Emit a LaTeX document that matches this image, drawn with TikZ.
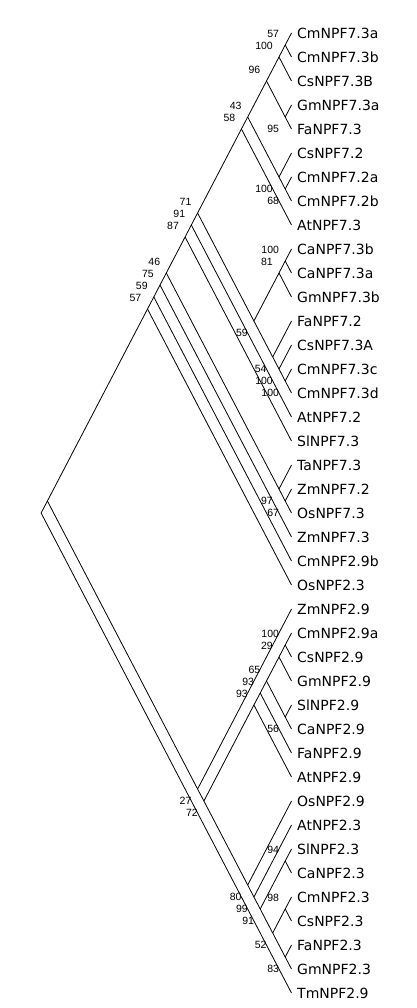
\documentclass[tikz,border=0pt]{standalone}
\usepackage{fontspec}
\setmainfont{DejaVu Sans}
\newfontfamily\bsfont{Liberation Sans}
\usepackage{tikz}

\begin{document}
\begin{tikzpicture}[
  taxon/.style={anchor=west, inner xsep=5.5pt, inner ysep=0pt, text height=10.2pt, text depth=0pt, font=\fontsize{14}{16}\selectfont},
  bs/.style={anchor=east, inner sep=0pt, font=\bsfont\fontsize{10.5}{12}\selectfont},
  bsup/.style={bs, xshift=-6pt, yshift=11pt},
  bsdn/.style={bs, xshift=-6pt, yshift=-12pt},
  branch/.style={line width=0.8pt}]
\begin{scope}[x=1pt, y=-1pt]

\useasboundingbox (0,0) rectangle (416,1008);

%---taxa---

\node[taxon] (l1) at (291.5,33) {CmNPF7.3a};
\node[taxon] (l2) at (291.5,57) {CmNPF7.3b};
\node[taxon] (l3) at (291.5,81) {CsNPF7.3B};
\node[taxon] (l4) at (291.5,105) {GmNPF7.3a};
\node[taxon] (l5) at (291.5,129) {FaNPF7.3};
\node[taxon] (l6) at (291.5,153) {CsNPF7.2};
\node[taxon] (l7) at (291.5,177) {CmNPF7.2a};
\node[taxon] (l8) at (291.5,201) {CmNPF7.2b};
\node[taxon] (l9) at (291.5,225) {AtNPF7.3};
\node[taxon] (l10) at (291.5,249) {CaNPF7.3b};
\node[taxon] (l11) at (291.5,273) {CaNPF7.3a};
\node[taxon] (l12) at (291.5,297) {GmNPF7.3b};
\node[taxon] (l13) at (291.5,321) {FaNPF7.2};
\node[taxon] (l14) at (291.5,345) {CsNPF7.3A};
\node[taxon] (l15) at (291.5,369) {CmNPF7.3c};
\node[taxon] (l16) at (291.5,393) {CmNPF7.3d};
\node[taxon] (l17) at (291.5,417) {AtNPF7.2};
\node[taxon] (l18) at (291.5,441) {SlNPF7.3};
\node[taxon] (l19) at (291.5,465) {TaNPF7.3};
\node[taxon] (l20) at (291.5,489) {ZmNPF7.2};
\node[taxon] (l21) at (291.5,513) {OsNPF7.3};
\node[taxon] (l22) at (291.5,537) {ZmNPF7.3};
\node[taxon] (l23) at (291.5,561) {CmNPF2.9b};
\node[taxon] (l24) at (291.5,585) {OsNPF2.3};
\node[taxon] (l25) at (291.5,609) {ZmNPF2.9};
\node[taxon] (l26) at (291.5,633) {CmNPF2.9a};
\node[taxon] (l27) at (291.5,657) {CsNPF2.9};
\node[taxon] (l28) at (291.5,681) {GmNPF2.9};
\node[taxon] (l29) at (291.5,705) {SlNPF2.9};
\node[taxon] (l30) at (291.5,729) {CaNPF2.9};
\node[taxon] (l31) at (291.5,753) {FaNPF2.9};
\node[taxon] (l32) at (291.5,777) {AtNPF2.9};
\node[taxon] (l33) at (291.5,801) {OsNPF2.9};
\node[taxon] (l34) at (291.5,825) {AtNPF2.3};
\node[taxon] (l35) at (291.5,849) {SlNPF2.3};
\node[taxon] (l36) at (291.5,873) {CaNPF2.3};
\node[taxon] (l37) at (291.5,897) {CmNPF2.3};
\node[taxon] (l38) at (291.5,921) {CsNPF2.3};
\node[taxon] (l39) at (291.5,945) {FaNPF2.3};
\node[taxon] (l40) at (291.5,969) {GmNPF2.3};
\node[taxon] (l41) at (291.5,993) {TmNPF2.9};

%---internal nodes---

\coordinate (root) at (41.1,513);
\coordinate (n1_40) at (47.4,501);
\coordinate (n1_24) at (147.5,309);
\coordinate (n1_23) at (153.8,297);
\coordinate (n1_22) at (160.0,285);
\coordinate (n1_21) at (166.3,273);
\coordinate (n1_18) at (185.1,237);
\coordinate (n1_17) at (191.3,225);
\coordinate (n1_16) at (197.6,213);
\coordinate (n1_9) at (241.4,129);
\coordinate (n1_8) at (247.7,117);
\coordinate (n1_5) at (266.5,81);
\coordinate (n1_3) at (279.0,57);
\coordinate (n1_2) at (285.2,45);
\coordinate (n4_5) at (285.2,117);
\coordinate (n6_8) at (279.0,177);
\coordinate (n7_8) at (285.2,189);
\coordinate (n10_16) at (253.9,321);
\coordinate (n10_12) at (279.0,273);
\coordinate (n10_11) at (285.2,261);
\coordinate (n13_16) at (272.7,357);
\coordinate (n14_16) at (279.0,369);
\coordinate (n15_16) at (285.2,381);
\coordinate (n19_21) at (279.0,489);
\coordinate (n20_21) at (285.2,501);
\coordinate (n25_40) at (197.6,789);
\coordinate (n26_40) at (203.9,801);
\coordinate (n26_32) at (253.9,705);
\coordinate (n26_31) at (260.2,693);
\coordinate (n26_30) at (266.5,681);
\coordinate (n26_28) at (279.0,657);
\coordinate (n26_27) at (285.2,645);
\coordinate (n29_30) at (285.2,717);
\coordinate (n33_40) at (247.7,885);
\coordinate (n34_40) at (253.9,897);
\coordinate (n35_40) at (260.2,909);
\coordinate (n35_36) at (285.2,861);
\coordinate (n37_40) at (272.7,933);
\coordinate (n37_38) at (285.2,909);
\coordinate (n39_40) at (285.2,957);

%---branches---

\draw[branch] (n1_40) -- (root) -- (l41.west);
\draw[branch] (n1_24) -- (n1_40) -- (n25_40);
\draw[branch] (n1_23) -- (n1_24) -- (l24.west);
\draw[branch] (n1_22) -- (n1_23) -- (l23.west);
\draw[branch] (n1_21) -- (n1_22) -- (l22.west);
\draw[branch] (n1_18) -- (n1_21) -- (n19_21);
\draw[branch] (n1_17) -- (n1_18) -- (l18.west);
\draw[branch] (n1_16) -- (n1_17) -- (l17.west);
\draw[branch] (n1_9) -- (n1_16) -- (n10_16);
\draw[branch] (n1_8) -- (n1_9) -- (l9.west);
\draw[branch] (n1_5) -- (n1_8) -- (n6_8);
\draw[branch] (n1_3) -- (n1_5) -- (n4_5);
\draw[branch] (n1_2) -- (n1_3) -- (l3.west);
\draw[branch] (l1.west) -- (n1_2) -- (l2.west);
\draw[branch] (l4.west) -- (n4_5) -- (l5.west);
\draw[branch] (l6.west) -- (n6_8) -- (n7_8);
\draw[branch] (l7.west) -- (n7_8) -- (l8.west);
\draw[branch] (n10_12) -- (n10_16) -- (n13_16);
\draw[branch] (n10_11) -- (n10_12) -- (l12.west);
\draw[branch] (l10.west) -- (n10_11) -- (l11.west);
\draw[branch] (l13.west) -- (n13_16) -- (n14_16);
\draw[branch] (l14.west) -- (n14_16) -- (n15_16);
\draw[branch] (l15.west) -- (n15_16) -- (l16.west);
\draw[branch] (l19.west) -- (n19_21) -- (n20_21);
\draw[branch] (l20.west) -- (n20_21) -- (l21.west);

\draw[branch] (l25.west) -- (n25_40) -- (n26_40);
\draw[branch] (n26_32) -- (n26_40) -- (n33_40);
\draw[branch] (n26_31) -- (n26_32) -- (l32.west);
\draw[branch] (n26_30) -- (n26_31) -- (l31.west);
\draw[branch] (n26_28) -- (n26_30) -- (n29_30);
\draw[branch] (n26_27) -- (n26_28) -- (l28.west);
\draw[branch] (l26.west) -- (n26_27) -- (l27.west);
\draw[branch] (l29.west) -- (n29_30) -- (l30.west);
\draw[branch] (l33.west) -- (n33_40) -- (n34_40);
\draw[branch] (l34.west) -- (n34_40) -- (n35_40);
\draw[branch] (n35_36) -- (n35_40) -- (n37_40);
\draw[branch] (l35.west) -- (n35_36) -- (l36.west);
\draw[branch] (n37_38) -- (n37_40) -- (n39_40);
\draw[branch] (l37.west) -- (n37_38) -- (l38.west);
\draw[branch] (l39.west) -- (n39_40) -- (l40.west);

%---bootstrap values---

\node[bsup] (b1_2) at (n1_2) {57};
\node[bsup] (b1_3) at (n1_3) {100};
\node[bsup] (b1_5) at (n1_5) {96};
\node[bsdn] (b4_5) at (n4_5) {95};
\node[bsup] (b1_8) at (n1_8) {43};
\node[bsdn] (b6_8) at (n6_8) {100};
\node[bsdn] (b7_8) at (n7_8) {68};
\node[bsup] (b1_9) at (n1_9) {58};
\node[bsup] (b1_16) at (n1_16) {71};
\node[bsup] (b1_17) at (n1_17) {91};
\node[bsup] (b1_18) at (n1_18) {87};
\node[bsup] (b10_11) at (n10_11) {100};
\node[bsup] (b10_12) at (n10_12) {81};
\node[bsdn] (b10_16) at (n10_16) {59};
\node[bsdn] (b13_16) at (n13_16) {54};
\node[bsdn] (b14_16) at (n14_16) {100};
\node[bsdn] (b15_16) at (n15_16) {100};
\node[bsup] (b1_21) at (n1_21) {46};
\node[bsup] (b1_22) at (n1_22) {75};
\node[bsup] (b1_23) at (n1_23) {59};
\node[bsup] (b1_24) at (n1_24) {57};
\node[bsdn] (b19_21) at (n19_21) {97};
\node[bsdn] (b20_21) at (n20_21) {67};

\node[bsdn] (b25_40) at (n25_40) {27};
\node[bsdn] (b26_40) at (n26_40) {72};
\node[bsup] (b26_27) at (n26_27) {100};
\node[bsup] (b26_28) at (n26_28) {29};
\node[bsup] (b26_30) at (n26_30) {65};
\node[bsup] (b26_31) at (n26_31) {93};
\node[bsup] (b26_32) at (n26_32) {93};
\node[bsdn] (b29_30) at (n29_30) {56};
\node[bsdn] (b33_40) at (n33_40) {80};
\node[bsdn] (b34_40) at (n34_40) {99};
\node[bsdn] (b35_40) at (n35_40) {91};
\node[bsup] (b35_36) at (n35_36) {94};
\node[bsup] (b37_38) at (n37_38) {98};
\node[bsdn] (b37_40) at (n37_40) {52};
\node[bsdn] (b39_40) at (n39_40) {83};

\end{scope}
\end{tikzpicture}
\end{document}
